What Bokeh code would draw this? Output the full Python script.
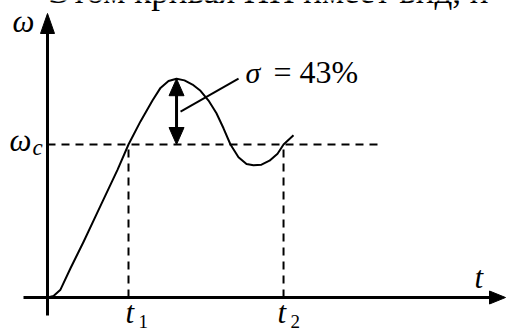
from bokeh.plotting import figure
from bokeh.models import Range1d
from bokeh.core.properties import value
from bokeh.embed import file_html
from bokeh.resources import INLINE

# Speed transient: time in units of t1, speed in units of the set value omega_c
t_curve = [0.0, 0.074, 0.160, 0.284, 0.444, 0.654, 0.864, 1.0, 1.148, 1.296,
           1.395, 1.494, 1.593, 1.691, 1.790, 1.889, 1.988, 2.086, 2.173, 2.259,
           2.358, 2.457, 2.543, 2.642, 2.741, 2.840, 2.914, 3.037]
w_curve = [0.0, 0.010, 0.051, 0.191, 0.363, 0.599, 0.834, 1.0, 1.151, 1.287,
           1.370, 1.415, 1.430, 1.419, 1.392, 1.351, 1.287, 1.204, 1.106, 1.0,
           0.917, 0.872, 0.864, 0.868, 0.894, 0.940, 1.0, 1.060]

omega_c = 1.0        # steady-state speed
sigma = 0.43         # overshoot
t1 = 1.0             # first time the speed reaches omega_c
t2 = 2.914           # second crossing of omega_c
t_peak = 1.593       # time of the maximum
w_peak = omega_c * (1 + sigma)

# canvas and scale
W, H = 506, 331
ORIGIN_X, ORIGIN_Y = 47, 297
PX_T, PX_W = 81, 153
X0, X1 = -ORIGIN_X / PX_T, (W - ORIGIN_X) / PX_T
Y0, Y1 = -(H - ORIGIN_Y) / PX_W, ORIGIN_Y / PX_W


def t_at(px):
    return X0 + px * (X1 - X0) / W


def w_at(py):
    return Y1 - py * (Y1 - Y0) / H


dtp = (X1 - X0) / W   # time per pixel
dwp = (Y1 - Y0) / H   # speed per pixel

p = figure(width=W, height=H, x_range=Range1d(X0, X1), y_range=Range1d(Y0, Y1),
           output_backend="svg", toolbar_location=None, min_border=0,
           x_axis_location=None, y_axis_location=None,
           background_fill_color="white", border_fill_color="white",
           outline_line_color=None)
p.grid.visible = False

BLACK = "black"
SERIF = "Liberation Serif"


def head(xt, yt, direction, length, width):
    """Filled triangular arrow head with its tip at (xt, yt); sizes in pixels."""
    if direction == "up":
        xs = [xt - width / 2 * dtp, xt + width / 2 * dtp, xt]
        ys = [yt - length * dwp, yt - length * dwp, yt]
    elif direction == "down":
        xs = [xt - width / 2 * dtp, xt + width / 2 * dtp, xt]
        ys = [yt + length * dwp, yt + length * dwp, yt]
    else:  # right
        xs = [xt - length * dtp, xt - length * dtp, xt]
        ys = [yt - width / 2 * dwp, yt + width / 2 * dwp, yt]
    p.patch(xs, ys, fill_color=BLACK, line_color=BLACK, line_width=1)


# coordinate axes
w_axis_bottom, w_axis_tip = w_at(315), w_at(13)
t_axis_left, t_axis_tip = t_at(23), t_at(505)
p.line([0, 0], [w_axis_bottom, w_axis_tip - 18 * dwp], line_color=BLACK, line_width=3)
head(0, w_axis_tip, "up", 20, 14)
p.line([t_axis_left, t_axis_tip - 14 * dtp], [0, 0], line_color=BLACK, line_width=3)
head(t_axis_tip, 0, "right", 16, 13)

# set value and crossing times
p.line([0, t_at(377)], [omega_c, omega_c], line_color=BLACK, line_width=2, line_dash="8 6")
for tc in (t1, t2):
    p.line([tc, tc], [0, omega_c], line_color=BLACK, line_width=2, line_dash="8 6")

# transient curve
p.line(t_curve, w_curve, line_color=BLACK, line_width=2, line_join="round")

# overshoot arrow
p.line([t_peak, t_peak], [omega_c + 15 * dwp, w_peak - 15 * dwp], line_color=BLACK, line_width=3)
head(t_peak, w_peak, "up", 17, 15)
head(t_peak, omega_c, "down", 17, 15)
p.line([t_peak + 4 * dtp, t_peak + 62 * dtp], [(omega_c + w_peak) / 2, w_peak],
       line_color=BLACK, line_width=2)


def label(x, y, text, dx, dy, size, italic=True):
    """Text with its left baseline point about dx px right and dy px below (x, y)."""
    p.text(x=[x], y=[y], text=[text], x_offset=dx, y_offset=dy - 0.4 * size,
           text_font=value(SERIF), text_font_size=f"{size}px",
           text_font_style="italic" if italic else "normal",
           text_color=BLACK, text_align="left", text_baseline="middle")


label(t_peak, w_peak, "σ", 69, 6, 30)
label(t_peak, w_peak, f"= {round(sigma * 100)}%", 97, 6, 32, italic=False)

label(0, w_axis_tip, "ω", -35, 20, 31)
label(0, omega_c, "ω", -38, 8, 31)
label(0, omega_c, "c", -15, 12, 23)
label(t_axis_tip, 0, "t", -31, -8, 31)
label(t1, 0, "t", -3, 27, 31)
label(t1, 0, "1", 10, 32, 19, italic=False)
label(t2, 0, "t", -6, 27, 31)
label(t2, 0, "2", 7, 32, 19, italic=False)

# running text of the page above the figure
label(t_at(48), w_at(10), "Этом кривая ПП имеет вид, п", 0, -5, 35, italic=False)

open("out.html", "w").write(file_html(p, INLINE))
